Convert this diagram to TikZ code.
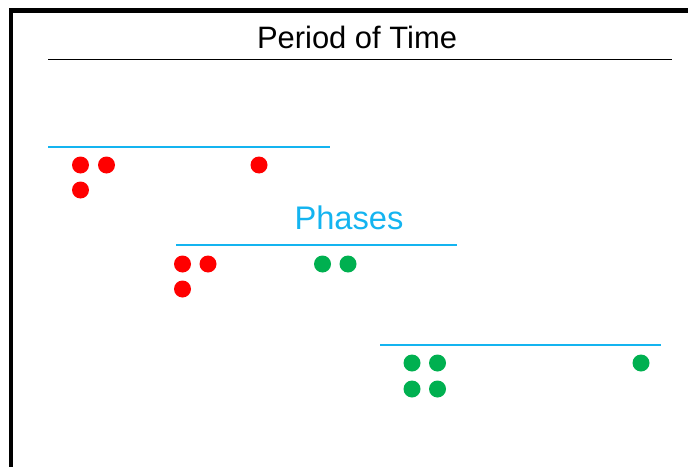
\documentclass[tikz,border=0pt]{standalone}
\usepackage{fontspec}
\setmainfont{Liberation Sans}
\definecolor{fasecian}{RGB}{20,180,240}
\definecolor{fasever}{RGB}{0,176,80}
\definecolor{faserosso}{RGB}{255,0,0}
\begin{document}
\begin{tikzpicture}[x=0.02cm,y=-0.02cm,
                    every node/.style={font=\fontsize{17.6pt}{20pt}\selectfont},
                    cornice/.style={draw=black,line width=0.1cm},
                    linea/.style={draw=fasecian,line width=1.1pt},
                    pallino/.style={circle,fill=#1,inner sep=0pt,minimum size=0.34cm}]
  \useasboundingbox (0,0) rectangle (688,466);
  \draw[cornice] (11,490) -- (11,10.5) -- (710,10.5);
  % titolo
  \node (titolo) at (357,37) {Period of Time};
  \draw[line width=0.85pt] (48,59.5) -- (672,59.5);
  \node[text=fasecian,font=\fontsize{18.6pt}{21pt}\selectfont] (fasi) at (349,218) {Phases};
  % linee delle fasi
  \coordinate (a1) at (48,147);  \coordinate (b1) at (330,147);
  \coordinate (a2) at (176,245); \coordinate (b2) at (457,245);
  \coordinate (a3) at (380,345); \coordinate (b3) at (661,345);
  \foreach \fs in {1,2,3} {
    \draw[linea] (a\fs) -- (b\fs);
  }
  % fase 1
  \foreach \nm/\px/\py in {p1/80.5/165,p2/106.5/165,p3/80.5/190,p4/259/165} {
    \node[pallino=faserosso] (f1\nm) at (\px,\py) {};
  }
  % fase 2
  \foreach \nm/\px/\py in {p1/182.5/264,p2/208/264,p3/182.5/289} {
    \node[pallino=faserosso] (f2\nm) at (\px,\py) {};
  }
  \foreach \nm/\px/\py in {p4/322.5/264,p5/348/264} {
    \node[pallino=fasever] (f2\nm) at (\px,\py) {};
  }
  % fase 3
  \foreach \nm/\px/\py in {p1/412/363,p2/437.5/363,p3/412/389,p4/437.5/389,p5/641/363} {
    \node[pallino=fasever] (f3\nm) at (\px,\py) {};
  }
\end{tikzpicture}
\end{document}
